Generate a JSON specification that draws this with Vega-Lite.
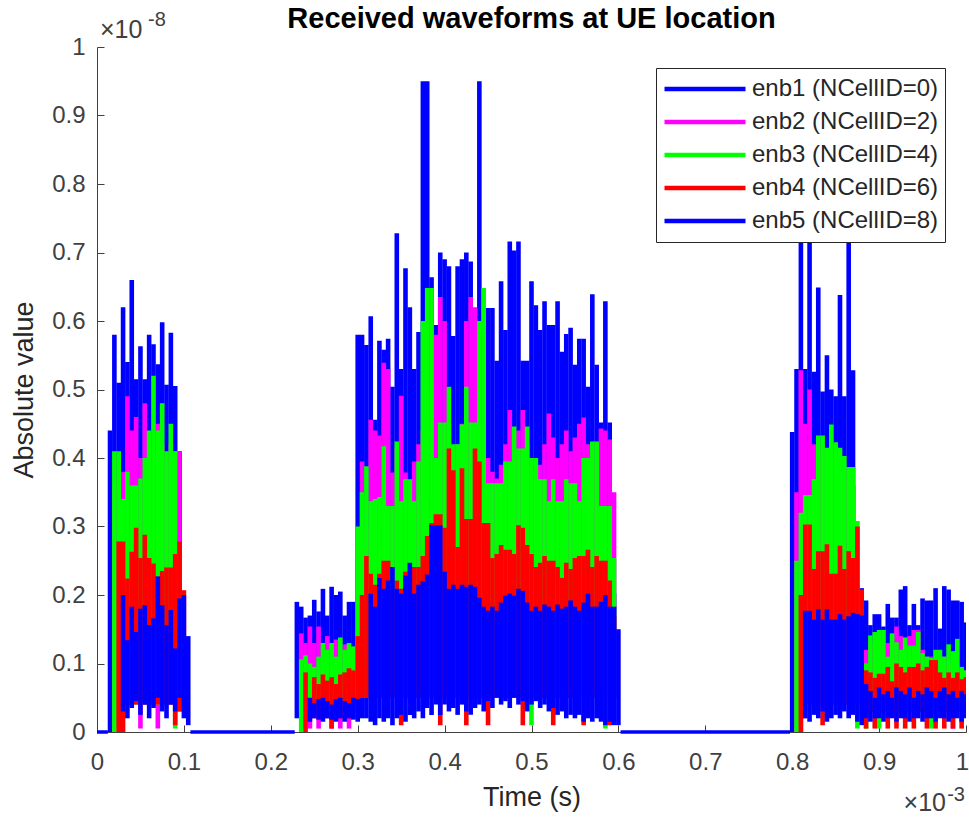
{
"$schema":"https://vega.github.io/schema/vega-lite/v6.json",
"width":869,"height":685,
"autosize":{"type":"none"},
"padding":{"left":97,"top":47,"right":3,"bottom":85},
"background":"white",
"config":{"view":{"stroke":null},"font":"Liberation Sans"},
"title":{"text":"Received waveforms at UE location","fontSize":29,"fontWeight":"bold","color":"#000000","font":"Liberation Sans","anchor":"middle","frame":"group","baseline":"alphabetic","offset":-47},
"layer":[
{"data":{"values":[{"a":0,"b":0.0125},{"a":0.1075,"b":0.2275},{"a":0.6025,"b":0.7975}]},
 "mark":{"type":"rule","color":"#0000ff","strokeWidth":3.5},
 "encoding":{"x":{"field":"a","type":"quantitative","scale":{"domain":[0,1],"nice":false,"zero":false}},"x2":{"field":"b"},"y":{"datum":0}}},
{"data":{"values":[
{"s":"enb1","t":0.015,"hi":0.44,"lo":0},{"s":"enb1","t":0.02,"hi":0.58,"lo":0.01},{"s":"enb1","t":0.025,"hi":0.51,"lo":0.02},{"s":"enb1","t":0.03,"hi":0.62,"lo":0.05},{"s":"enb1","t":0.035,"hi":0.54,"lo":0.05},{"s":"enb1","t":0.04,"hi":0.66,"lo":0.05},{"s":"enb1","t":0.045,"hi":0.515,"lo":0.05},{"s":"enb1","t":0.05,"hi":0.563,"lo":0.05},{"s":"enb1","t":0.055,"hi":0.515,"lo":0.05},{"s":"enb1","t":0.06,"hi":0.58,"lo":0.05},{"s":"enb1","t":0.065,"hi":0.566,"lo":0.05},{"s":"enb1","t":0.07,"hi":0.537,"lo":0.05},{"s":"enb1","t":0.075,"hi":0.598,"lo":0.05},{"s":"enb1","t":0.08,"hi":0.507,"lo":0.05},{"s":"enb1","t":0.085,"hi":0.583,"lo":0.05},{"s":"enb1","t":0.09,"hi":0.505,"lo":0.05},{"s":"enb1","t":0.095,"hi":0.41,"lo":0.05},
{"s":"enb1","t":0.23,"hi":0.19,"lo":0.02},{"s":"enb1","t":0.235,"hi":0.183,"lo":0.03},{"s":"enb1","t":0.24,"hi":0.167,"lo":0.03},{"s":"enb1","t":0.245,"hi":0.17,"lo":0.03},{"s":"enb1","t":0.25,"hi":0.193,"lo":0.03},{"s":"enb1","t":0.255,"hi":0.176,"lo":0.03},{"s":"enb1","t":0.26,"hi":0.209,"lo":0.03},{"s":"enb1","t":0.265,"hi":0.17,"lo":0.03},{"s":"enb1","t":0.27,"hi":0.212,"lo":0.03},{"s":"enb1","t":0.275,"hi":0.2,"lo":0.03},{"s":"enb1","t":0.28,"hi":0.205,"lo":0.03},{"s":"enb1","t":0.285,"hi":0.17,"lo":0.03},{"s":"enb1","t":0.29,"hi":0.19,"lo":0.03},{"s":"enb1","t":0.295,"hi":0.19,"lo":0.03},
{"s":"enb1","t":0.3,"hi":0.58,"lo":0.05},{"s":"enb1","t":0.305,"hi":0.58,"lo":0.05},{"s":"enb1","t":0.31,"hi":0.565,"lo":0.05},{"s":"enb1","t":0.315,"hi":0.607,"lo":0.05},{"s":"enb1","t":0.32,"hi":0.456,"lo":0.05},{"s":"enb1","t":0.325,"hi":0.571,"lo":0.05},{"s":"enb1","t":0.33,"hi":0.558,"lo":0.05},{"s":"enb1","t":0.335,"hi":0.574,"lo":0.05},{"s":"enb1","t":0.34,"hi":0.504,"lo":0.05},{"s":"enb1","t":0.345,"hi":0.728,"lo":0.05},{"s":"enb1","t":0.35,"hi":0.53,"lo":0.05},{"s":"enb1","t":0.355,"hi":0.677,"lo":0.05},{"s":"enb1","t":0.36,"hi":0.62,"lo":0.05},{"s":"enb1","t":0.365,"hi":0.53,"lo":0.05},{"s":"enb1","t":0.37,"hi":0.584,"lo":0.05},{"s":"enb1","t":0.375,"hi":0.95,"lo":0.05},{"s":"enb1","t":0.38,"hi":0.95,"lo":0.05},{"s":"enb1","t":0.385,"hi":0.664,"lo":0.05},{"s":"enb1","t":0.39,"hi":0.594,"lo":0.05},{"s":"enb1","t":0.395,"hi":0.7,"lo":0.05},{"s":"enb1","t":0.4,"hi":0.69,"lo":0.05},{"s":"enb1","t":0.405,"hi":0.68,"lo":0.05},{"s":"enb1","t":0.41,"hi":0.578,"lo":0.05},{"s":"enb1","t":0.415,"hi":0.68,"lo":0.05},{"s":"enb1","t":0.42,"hi":0.69,"lo":0.05},{"s":"enb1","t":0.425,"hi":0.7,"lo":0.05},{"s":"enb1","t":0.43,"hi":0.687,"lo":0.05},{"s":"enb1","t":0.435,"hi":0.536,"lo":0.05},{"s":"enb1","t":0.44,"hi":0.95,"lo":0.05},{"s":"enb1","t":0.445,"hi":0.581,"lo":0.05},{"s":"enb1","t":0.45,"hi":0.619,"lo":0.05},{"s":"enb1","t":0.455,"hi":0.619,"lo":0.05},{"s":"enb1","t":0.46,"hi":0.542,"lo":0.05},{"s":"enb1","t":0.465,"hi":0.658,"lo":0.05},{"s":"enb1","t":0.47,"hi":0.587,"lo":0.05},{"s":"enb1","t":0.475,"hi":0.716,"lo":0.05},{"s":"enb1","t":0.48,"hi":0.703,"lo":0.05},{"s":"enb1","t":0.485,"hi":0.716,"lo":0.05},{"s":"enb1","t":0.49,"hi":0.542,"lo":0.05},{"s":"enb1","t":0.495,"hi":0.542,"lo":0.05},{"s":"enb1","t":0.5,"hi":0.658,"lo":0.05},{"s":"enb1","t":0.505,"hi":0.623,"lo":0.05},{"s":"enb1","t":0.51,"hi":0.587,"lo":0.05},{"s":"enb1","t":0.515,"hi":0.629,"lo":0.05},{"s":"enb1","t":0.52,"hi":0.594,"lo":0.05},{"s":"enb1","t":0.525,"hi":0.594,"lo":0.05},{"s":"enb1","t":0.53,"hi":0.629,"lo":0.05},{"s":"enb1","t":0.535,"hi":0.555,"lo":0.05},{"s":"enb1","t":0.54,"hi":0.581,"lo":0.05},{"s":"enb1","t":0.545,"hi":0.59,"lo":0.05},{"s":"enb1","t":0.55,"hi":0.536,"lo":0.05},{"s":"enb1","t":0.555,"hi":0.574,"lo":0.05},{"s":"enb1","t":0.56,"hi":0.574,"lo":0.05},{"s":"enb1","t":0.565,"hi":0.504,"lo":0.05},{"s":"enb1","t":0.57,"hi":0.639,"lo":0.05},{"s":"enb1","t":0.575,"hi":0.536,"lo":0.05},{"s":"enb1","t":0.58,"hi":0.452,"lo":0.05},{"s":"enb1","t":0.585,"hi":0.629,"lo":0.05},{"s":"enb1","t":0.59,"hi":0.452,"lo":0.05},{"s":"enb1","t":0.595,"hi":0.202,"lo":0.05},
{"s":"enb1","t":0.8,"hi":0.438,"lo":0},{"s":"enb1","t":0.805,"hi":0.53,"lo":0.01},{"s":"enb1","t":0.81,"hi":0.8,"lo":0.04},{"s":"enb1","t":0.815,"hi":0.53,"lo":0.05},{"s":"enb1","t":0.82,"hi":0.8,"lo":0.05},{"s":"enb1","t":0.825,"hi":0.526,"lo":0.05},{"s":"enb1","t":0.83,"hi":0.649,"lo":0.05},{"s":"enb1","t":0.835,"hi":0.497,"lo":0.05},{"s":"enb1","t":0.84,"hi":0.55,"lo":0.05},{"s":"enb1","t":0.845,"hi":0.5,"lo":0.05},{"s":"enb1","t":0.85,"hi":0.49,"lo":0.05},{"s":"enb1","t":0.855,"hi":0.638,"lo":0.05},{"s":"enb1","t":0.86,"hi":0.49,"lo":0.05},{"s":"enb1","t":0.865,"hi":0.8,"lo":0.05},{"s":"enb1","t":0.87,"hi":0.528,"lo":0.05},{"s":"enb1","t":0.875,"hi":0.213,"lo":0.05},{"s":"enb1","t":0.88,"hi":0.21,"lo":0.04},
{"s":"enb1","t":0.885,"hi":0.192,"lo":0.03},{"s":"enb1","t":0.89,"hi":0.156,"lo":0.03},{"s":"enb1","t":0.895,"hi":0.172,"lo":0.03},{"s":"enb1","t":0.9,"hi":0.172,"lo":0.03},{"s":"enb1","t":0.905,"hi":0.154,"lo":0.03},{"s":"enb1","t":0.91,"hi":0.187,"lo":0.03},{"s":"enb1","t":0.915,"hi":0.167,"lo":0.03},{"s":"enb1","t":0.92,"hi":0.167,"lo":0.03},{"s":"enb1","t":0.925,"hi":0.208,"lo":0.03},{"s":"enb1","t":0.93,"hi":0.213,"lo":0.03},{"s":"enb1","t":0.935,"hi":0.156,"lo":0.03},{"s":"enb1","t":0.94,"hi":0.187,"lo":0.03},{"s":"enb1","t":0.945,"hi":0.156,"lo":0.03},{"s":"enb1","t":0.95,"hi":0.195,"lo":0.03},{"s":"enb1","t":0.955,"hi":0.192,"lo":0.03},{"s":"enb1","t":0.96,"hi":0.192,"lo":0.03},{"s":"enb1","t":0.965,"hi":0.21,"lo":0.03},{"s":"enb1","t":0.97,"hi":0.151,"lo":0.03},{"s":"enb1","t":0.975,"hi":0.213,"lo":0.03},{"s":"enb1","t":0.98,"hi":0.208,"lo":0.03},{"s":"enb1","t":0.985,"hi":0.192,"lo":0.03},{"s":"enb1","t":0.99,"hi":0.192,"lo":0.03},{"s":"enb1","t":0.995,"hi":0.19,"lo":0.03},{"s":"enb1","t":1.0,"hi":0.16,"lo":0.03},
{"s":"enb2","t":0.02,"hi":0.36,"lo":0.005},{"s":"enb2","t":0.025,"hi":0.4,"lo":0.02},{"s":"enb2","t":0.03,"hi":0.38,"lo":0.04},{"s":"enb2","t":0.035,"hi":0.49,"lo":0.04},{"s":"enb2","t":0.04,"hi":0.44,"lo":0.04},{"s":"enb2","t":0.045,"hi":0.46,"lo":0.04},{"s":"enb2","t":0.05,"hi":0.4,"lo":0.005},{"s":"enb2","t":0.055,"hi":0.48,"lo":0.04},{"s":"enb2","t":0.06,"hi":0.42,"lo":0.04},{"s":"enb2","t":0.065,"hi":0.4,"lo":0.04},{"s":"enb2","t":0.07,"hi":0.45,"lo":0.005},{"s":"enb2","t":0.075,"hi":0.42,"lo":0.04},{"s":"enb2","t":0.08,"hi":0.4,"lo":0.04},{"s":"enb2","t":0.085,"hi":0.42,"lo":0.04},{"s":"enb2","t":0.09,"hi":0.41,"lo":0.04},{"s":"enb2","t":0.095,"hi":0.41,"lo":0.03},
{"s":"enb2","t":0.235,"hi":0.144,"lo":0.03},{"s":"enb2","t":0.24,"hi":0.13,"lo":0.03},{"s":"enb2","t":0.245,"hi":0.154,"lo":0.005},{"s":"enb2","t":0.25,"hi":0.13,"lo":0.03},{"s":"enb2","t":0.255,"hi":0.154,"lo":0.005},{"s":"enb2","t":0.26,"hi":0.12,"lo":0.03},{"s":"enb2","t":0.265,"hi":0.14,"lo":0.03},{"s":"enb2","t":0.27,"hi":0.12,"lo":0.005},{"s":"enb2","t":0.275,"hi":0.135,"lo":0.03},{"s":"enb2","t":0.28,"hi":0.12,"lo":0.005},{"s":"enb2","t":0.285,"hi":0.128,"lo":0.03},{"s":"enb2","t":0.29,"hi":0.12,"lo":0.005},{"s":"enb2","t":0.295,"hi":0.12,"lo":0.03},{"s":"enb2","t":0.3,"hi":0.25,"lo":0.04},
{"s":"enb2","t":0.305,"hi":0.395,"lo":0.05},{"s":"enb2","t":0.31,"hi":0.3,"lo":0.05},{"s":"enb2","t":0.315,"hi":0.456,"lo":0.05},{"s":"enb2","t":0.32,"hi":0.44,"lo":0.05},{"s":"enb2","t":0.325,"hi":0.433,"lo":0.05},{"s":"enb2","t":0.33,"hi":0.539,"lo":0.05},{"s":"enb2","t":0.335,"hi":0.53,"lo":0.05},{"s":"enb2","t":0.34,"hi":0.379,"lo":0.05},{"s":"enb2","t":0.345,"hi":0.414,"lo":0.05},{"s":"enb2","t":0.35,"hi":0.491,"lo":0.05},{"s":"enb2","t":0.355,"hi":0.379,"lo":0.05},{"s":"enb2","t":0.36,"hi":0.337,"lo":0.05},{"s":"enb2","t":0.365,"hi":0.395,"lo":0.05},{"s":"enb2","t":0.37,"hi":0.42,"lo":0.05},{"s":"enb2","t":0.375,"hi":0.44,"lo":0.05},{"s":"enb2","t":0.38,"hi":0.46,"lo":0.05},{"s":"enb2","t":0.385,"hi":0.5,"lo":0.05},{"s":"enb2","t":0.39,"hi":0.58,"lo":0.05},{"s":"enb2","t":0.395,"hi":0.635,"lo":0.05},{"s":"enb2","t":0.4,"hi":0.6,"lo":0.05},{"s":"enb2","t":0.405,"hi":0.45,"lo":0.05},{"s":"enb2","t":0.41,"hi":0.4,"lo":0.05},{"s":"enb2","t":0.415,"hi":0.42,"lo":0.05},{"s":"enb2","t":0.42,"hi":0.45,"lo":0.05},{"s":"enb2","t":0.425,"hi":0.6,"lo":0.05},{"s":"enb2","t":0.43,"hi":0.635,"lo":0.05},{"s":"enb2","t":0.435,"hi":0.62,"lo":0.05},{"s":"enb2","t":0.44,"hi":0.45,"lo":0.05},{"s":"enb2","t":0.445,"hi":0.4,"lo":0.05},{"s":"enb2","t":0.45,"hi":0.4,"lo":0.05},{"s":"enb2","t":0.455,"hi":0.38,"lo":0.05},{"s":"enb2","t":0.46,"hi":0.37,"lo":0.05},{"s":"enb2","t":0.465,"hi":0.39,"lo":0.05},{"s":"enb2","t":0.47,"hi":0.42,"lo":0.05},{"s":"enb2","t":0.475,"hi":0.47,"lo":0.05},{"s":"enb2","t":0.48,"hi":0.43,"lo":0.05},{"s":"enb2","t":0.485,"hi":0.44,"lo":0.05},{"s":"enb2","t":0.49,"hi":0.47,"lo":0.05},{"s":"enb2","t":0.495,"hi":0.42,"lo":0.05},{"s":"enb2","t":0.5,"hi":0.38,"lo":0.05},{"s":"enb2","t":0.505,"hi":0.37,"lo":0.05},{"s":"enb2","t":0.51,"hi":0.39,"lo":0.05},{"s":"enb2","t":0.515,"hi":0.42,"lo":0.05},{"s":"enb2","t":0.52,"hi":0.465,"lo":0.05},{"s":"enb2","t":0.525,"hi":0.43,"lo":0.05},{"s":"enb2","t":0.53,"hi":0.4,"lo":0.05},{"s":"enb2","t":0.535,"hi":0.42,"lo":0.05},{"s":"enb2","t":0.54,"hi":0.44,"lo":0.05},{"s":"enb2","t":0.545,"hi":0.41,"lo":0.05},{"s":"enb2","t":0.55,"hi":0.43,"lo":0.05},{"s":"enb2","t":0.555,"hi":0.45,"lo":0.05},{"s":"enb2","t":0.56,"hi":0.459,"lo":0.05},{"s":"enb2","t":0.565,"hi":0.42,"lo":0.05},{"s":"enb2","t":0.57,"hi":0.39,"lo":0.05},{"s":"enb2","t":0.575,"hi":0.42,"lo":0.05},{"s":"enb2","t":0.58,"hi":0.443,"lo":0.05},{"s":"enb2","t":0.585,"hi":0.44,"lo":0.05},{"s":"enb2","t":0.59,"hi":0.427,"lo":0.05},{"s":"enb2","t":0.595,"hi":0.35,"lo":0.05},
{"s":"enb2","t":0.805,"hi":0.35,"lo":0},{"s":"enb2","t":0.81,"hi":0.528,"lo":0.02},{"s":"enb2","t":0.815,"hi":0.45,"lo":0.04},{"s":"enb2","t":0.82,"hi":0.5,"lo":0.04},{"s":"enb2","t":0.825,"hi":0.42,"lo":0.04},{"s":"enb2","t":0.83,"hi":0.4,"lo":0.04},{"s":"enb2","t":0.835,"hi":0.42,"lo":0.04},{"s":"enb2","t":0.84,"hi":0.4,"lo":0.04},{"s":"enb2","t":0.845,"hi":0.42,"lo":0.04},{"s":"enb2","t":0.85,"hi":0.4,"lo":0.04},{"s":"enb2","t":0.855,"hi":0.38,"lo":0.04},{"s":"enb2","t":0.86,"hi":0.37,"lo":0.04},{"s":"enb2","t":0.865,"hi":0.387,"lo":0.04},{"s":"enb2","t":0.87,"hi":0.36,"lo":0.04},{"s":"enb2","t":0.875,"hi":0.3,"lo":0.04},
{"s":"enb2","t":0.885,"hi":0.12,"lo":0.03},{"s":"enb2","t":0.89,"hi":0.13,"lo":0.03},{"s":"enb2","t":0.895,"hi":0.12,"lo":0.03},{"s":"enb2","t":0.9,"hi":0.13,"lo":0.03},{"s":"enb2","t":0.905,"hi":0.12,"lo":0.03},{"s":"enb2","t":0.91,"hi":0.13,"lo":0.03},{"s":"enb2","t":0.915,"hi":0.14,"lo":0.03},{"s":"enb2","t":0.92,"hi":0.154,"lo":0.03},{"s":"enb2","t":0.925,"hi":0.14,"lo":0.03},{"s":"enb2","t":0.93,"hi":0.13,"lo":0.03},{"s":"enb2","t":0.935,"hi":0.14,"lo":0.03},{"s":"enb2","t":0.94,"hi":0.149,"lo":0.03},{"s":"enb2","t":0.945,"hi":0.149,"lo":0.03},{"s":"enb2","t":0.95,"hi":0.12,"lo":0.03},{"s":"enb2","t":0.955,"hi":0.11,"lo":0.03},{"s":"enb2","t":0.96,"hi":0.11,"lo":0.03},{"s":"enb2","t":0.965,"hi":0.11,"lo":0.03},{"s":"enb2","t":0.97,"hi":0.1,"lo":0.03},{"s":"enb2","t":0.975,"hi":0.11,"lo":0.03},{"s":"enb2","t":0.98,"hi":0.1,"lo":0.03},{"s":"enb2","t":0.985,"hi":0.11,"lo":0.005},{"s":"enb2","t":0.99,"hi":0.09,"lo":0.03},{"s":"enb2","t":0.995,"hi":0.09,"lo":0.03},{"s":"enb2","t":1.0,"hi":0.09,"lo":0.03},
{"s":"enb3","t":0.02,"hi":0.41,"lo":0},{"s":"enb3","t":0.025,"hi":0.41,"lo":0},{"s":"enb3","t":0.03,"hi":0.34,"lo":0.04},{"s":"enb3","t":0.035,"hi":0.38,"lo":0.04},{"s":"enb3","t":0.04,"hi":0.36,"lo":0.04},{"s":"enb3","t":0.045,"hi":0.36,"lo":0.04},{"s":"enb3","t":0.05,"hi":0.37,"lo":0.04},{"s":"enb3","t":0.055,"hi":0.4,"lo":0.04},{"s":"enb3","t":0.06,"hi":0.44,"lo":0.04},{"s":"enb3","t":0.065,"hi":0.52,"lo":0.04},{"s":"enb3","t":0.07,"hi":0.44,"lo":0.04},{"s":"enb3","t":0.075,"hi":0.48,"lo":0.04},{"s":"enb3","t":0.08,"hi":0.41,"lo":0.04},{"s":"enb3","t":0.085,"hi":0.45,"lo":0.04},{"s":"enb3","t":0.09,"hi":0.41,"lo":0.005},
{"s":"enb3","t":0.235,"hi":0.106,"lo":0},{"s":"enb3","t":0.24,"hi":0.112,"lo":0.005},{"s":"enb3","t":0.245,"hi":0.1,"lo":0.03},{"s":"enb3","t":0.25,"hi":0.095,"lo":0.03},{"s":"enb3","t":0.255,"hi":0.11,"lo":0.03},{"s":"enb3","t":0.26,"hi":0.13,"lo":0.03},{"s":"enb3","t":0.265,"hi":0.12,"lo":0.03},{"s":"enb3","t":0.27,"hi":0.13,"lo":0.03},{"s":"enb3","t":0.275,"hi":0.11,"lo":0.03},{"s":"enb3","t":0.28,"hi":0.138,"lo":0.03},{"s":"enb3","t":0.285,"hi":0.12,"lo":0.03},{"s":"enb3","t":0.29,"hi":0.13,"lo":0.03},{"s":"enb3","t":0.295,"hi":0.125,"lo":0.03},{"s":"enb3","t":0.3,"hi":0.3,"lo":0.04},
{"s":"enb3","t":0.305,"hi":0.35,"lo":0.05},{"s":"enb3","t":0.31,"hi":0.388,"lo":0.05},{"s":"enb3","t":0.315,"hi":0.337,"lo":0.05},{"s":"enb3","t":0.32,"hi":0.34,"lo":0.05},{"s":"enb3","t":0.325,"hi":0.343,"lo":0.05},{"s":"enb3","t":0.33,"hi":0.417,"lo":0.05},{"s":"enb3","t":0.335,"hi":0.33,"lo":0.05},{"s":"enb3","t":0.34,"hi":0.33,"lo":0.05},{"s":"enb3","t":0.345,"hi":0.424,"lo":0.05},{"s":"enb3","t":0.35,"hi":0.337,"lo":0.05},{"s":"enb3","t":0.355,"hi":0.369,"lo":0.05},{"s":"enb3","t":0.36,"hi":0.369,"lo":0.05},{"s":"enb3","t":0.365,"hi":0.337,"lo":0.05},{"s":"enb3","t":0.37,"hi":0.395,"lo":0.05},{"s":"enb3","t":0.375,"hi":0.6,"lo":0.05},{"s":"enb3","t":0.38,"hi":0.648,"lo":0.05},{"s":"enb3","t":0.385,"hi":0.648,"lo":0.05},{"s":"enb3","t":0.39,"hi":0.4,"lo":0.05},{"s":"enb3","t":0.395,"hi":0.452,"lo":0.05},{"s":"enb3","t":0.4,"hi":0.452,"lo":0.05},{"s":"enb3","t":0.405,"hi":0.504,"lo":0.05},{"s":"enb3","t":0.41,"hi":0.42,"lo":0.05},{"s":"enb3","t":0.415,"hi":0.42,"lo":0.05},{"s":"enb3","t":0.42,"hi":0.449,"lo":0.05},{"s":"enb3","t":0.425,"hi":0.504,"lo":0.05},{"s":"enb3","t":0.43,"hi":0.452,"lo":0.05},{"s":"enb3","t":0.435,"hi":0.452,"lo":0.05},{"s":"enb3","t":0.44,"hi":0.6,"lo":0.05},{"s":"enb3","t":0.445,"hi":0.648,"lo":0.05},{"s":"enb3","t":0.45,"hi":0.363,"lo":0.05},{"s":"enb3","t":0.455,"hi":0.363,"lo":0.05},{"s":"enb3","t":0.46,"hi":0.363,"lo":0.05},{"s":"enb3","t":0.465,"hi":0.363,"lo":0.05},{"s":"enb3","t":0.47,"hi":0.395,"lo":0.05},{"s":"enb3","t":0.475,"hi":0.395,"lo":0.05},{"s":"enb3","t":0.48,"hi":0.446,"lo":0.05},{"s":"enb3","t":0.485,"hi":0.414,"lo":0.05},{"s":"enb3","t":0.49,"hi":0.414,"lo":0.05},{"s":"enb3","t":0.495,"hi":0.446,"lo":0.05},{"s":"enb3","t":0.5,"hi":0.4,"lo":0.01},{"s":"enb3","t":0.505,"hi":0.4,"lo":0.05},{"s":"enb3","t":0.51,"hi":0.369,"lo":0.05},{"s":"enb3","t":0.515,"hi":0.369,"lo":0.05},{"s":"enb3","t":0.52,"hi":0.337,"lo":0.05},{"s":"enb3","t":0.525,"hi":0.369,"lo":0.05},{"s":"enb3","t":0.53,"hi":0.337,"lo":0.05},{"s":"enb3","t":0.535,"hi":0.337,"lo":0.05},{"s":"enb3","t":0.54,"hi":0.369,"lo":0.05},{"s":"enb3","t":0.545,"hi":0.363,"lo":0.05},{"s":"enb3","t":0.55,"hi":0.363,"lo":0.05},{"s":"enb3","t":0.555,"hi":0.337,"lo":0.05},{"s":"enb3","t":0.56,"hi":0.4,"lo":0.05},{"s":"enb3","t":0.565,"hi":0.4,"lo":0.05},{"s":"enb3","t":0.57,"hi":0.424,"lo":0.05},{"s":"enb3","t":0.575,"hi":0.424,"lo":0.05},{"s":"enb3","t":0.58,"hi":0.33,"lo":0.05},{"s":"enb3","t":0.585,"hi":0.33,"lo":0.005},{"s":"enb3","t":0.59,"hi":0.33,"lo":0.05},{"s":"enb3","t":0.595,"hi":0.254,"lo":0.05},
{"s":"enb3","t":0.805,"hi":0.25,"lo":0},{"s":"enb3","t":0.81,"hi":0.32,"lo":0},{"s":"enb3","t":0.815,"hi":0.346,"lo":0.04},{"s":"enb3","t":0.82,"hi":0.346,"lo":0.04},{"s":"enb3","t":0.825,"hi":0.369,"lo":0.04},{"s":"enb3","t":0.83,"hi":0.433,"lo":0.04},{"s":"enb3","t":0.835,"hi":0.433,"lo":0.04},{"s":"enb3","t":0.84,"hi":0.415,"lo":0.04},{"s":"enb3","t":0.845,"hi":0.449,"lo":0.04},{"s":"enb3","t":0.85,"hi":0.423,"lo":0.04},{"s":"enb3","t":0.855,"hi":0.415,"lo":0.04},{"s":"enb3","t":0.86,"hi":0.403,"lo":0.04},{"s":"enb3","t":0.865,"hi":0.387,"lo":0.04},{"s":"enb3","t":0.87,"hi":0.387,"lo":0.04},{"s":"enb3","t":0.875,"hi":0.308,"lo":0.005},
{"s":"enb3","t":0.885,"hi":0.1,"lo":0.005},{"s":"enb3","t":0.89,"hi":0.141,"lo":0.03},{"s":"enb3","t":0.895,"hi":0.146,"lo":0.03},{"s":"enb3","t":0.9,"hi":0.149,"lo":0.005},{"s":"enb3","t":0.905,"hi":0.149,"lo":0.03},{"s":"enb3","t":0.91,"hi":0.11,"lo":0.03},{"s":"enb3","t":0.915,"hi":0.144,"lo":0.03},{"s":"enb3","t":0.92,"hi":0.131,"lo":0.03},{"s":"enb3","t":0.925,"hi":0.12,"lo":0.03},{"s":"enb3","t":0.93,"hi":0.138,"lo":0.03},{"s":"enb3","t":0.935,"hi":0.126,"lo":0.03},{"s":"enb3","t":0.94,"hi":0.126,"lo":0.03},{"s":"enb3","t":0.945,"hi":0.146,"lo":0.03},{"s":"enb3","t":0.95,"hi":0.115,"lo":0.03},{"s":"enb3","t":0.955,"hi":0.11,"lo":0.03},{"s":"enb3","t":0.96,"hi":0.108,"lo":0.005},{"s":"enb3","t":0.965,"hi":0.12,"lo":0.03},{"s":"enb3","t":0.97,"hi":0.12,"lo":0.03},{"s":"enb3","t":0.975,"hi":0.11,"lo":0.03},{"s":"enb3","t":0.98,"hi":0.128,"lo":0.03},{"s":"enb3","t":0.985,"hi":0.118,"lo":0.03},{"s":"enb3","t":0.99,"hi":0.136,"lo":0.03},{"s":"enb3","t":0.995,"hi":0.095,"lo":0.03},{"s":"enb3","t":1.0,"hi":0.09,"lo":0.03},
{"s":"enb4","t":0.025,"hi":0.278,"lo":0},{"s":"enb4","t":0.03,"hi":0.278,"lo":0},{"s":"enb4","t":0.035,"hi":0.224,"lo":0.04},{"s":"enb4","t":0.04,"hi":0.263,"lo":0.04},{"s":"enb4","t":0.045,"hi":0.298,"lo":0.04},{"s":"enb4","t":0.05,"hi":0.254,"lo":0.04},{"s":"enb4","t":0.055,"hi":0.288,"lo":0.04},{"s":"enb4","t":0.06,"hi":0.254,"lo":0.04},{"s":"enb4","t":0.065,"hi":0.246,"lo":0.04},{"s":"enb4","t":0.07,"hi":0.227,"lo":0.04},{"s":"enb4","t":0.075,"hi":0.235,"lo":0.04},{"s":"enb4","t":0.08,"hi":0.24,"lo":0.04},{"s":"enb4","t":0.085,"hi":0.24,"lo":0.04},{"s":"enb4","t":0.09,"hi":0.26,"lo":0.01},{"s":"enb4","t":0.095,"hi":0.278,"lo":0.03},{"s":"enb4","t":0.1,"hi":0.207,"lo":0.03},
{"s":"enb4","t":0.24,"hi":0.087,"lo":0},{"s":"enb4","t":0.245,"hi":0.048,"lo":0.02},{"s":"enb4","t":0.25,"hi":0.08,"lo":0.02},{"s":"enb4","t":0.255,"hi":0.07,"lo":0.02},{"s":"enb4","t":0.26,"hi":0.084,"lo":0.02},{"s":"enb4","t":0.265,"hi":0.075,"lo":0.02},{"s":"enb4","t":0.27,"hi":0.08,"lo":0.005},{"s":"enb4","t":0.275,"hi":0.07,"lo":0.02},{"s":"enb4","t":0.28,"hi":0.084,"lo":0.02},{"s":"enb4","t":0.285,"hi":0.087,"lo":0.02},{"s":"enb4","t":0.29,"hi":0.093,"lo":0.02},{"s":"enb4","t":0.295,"hi":0.09,"lo":0.02},{"s":"enb4","t":0.3,"hi":0.14,"lo":0.03},
{"s":"enb4","t":0.305,"hi":0.2,"lo":0.05},{"s":"enb4","t":0.31,"hi":0.257,"lo":0.05},{"s":"enb4","t":0.315,"hi":0.231,"lo":0.05},{"s":"enb4","t":0.32,"hi":0.215,"lo":0.05},{"s":"enb4","t":0.325,"hi":0.231,"lo":0.05},{"s":"enb4","t":0.33,"hi":0.25,"lo":0.05},{"s":"enb4","t":0.335,"hi":0.25,"lo":0.05},{"s":"enb4","t":0.34,"hi":0.202,"lo":0.05},{"s":"enb4","t":0.345,"hi":0.221,"lo":0.05},{"s":"enb4","t":0.35,"hi":0.209,"lo":0.01},{"s":"enb4","t":0.355,"hi":0.234,"lo":0.05},{"s":"enb4","t":0.36,"hi":0.225,"lo":0.05},{"s":"enb4","t":0.365,"hi":0.241,"lo":0.05},{"s":"enb4","t":0.37,"hi":0.241,"lo":0.05},{"s":"enb4","t":0.375,"hi":0.257,"lo":0.05},{"s":"enb4","t":0.38,"hi":0.286,"lo":0.05},{"s":"enb4","t":0.385,"hi":0.305,"lo":0.05},{"s":"enb4","t":0.39,"hi":0.318,"lo":0.05},{"s":"enb4","t":0.395,"hi":0.318,"lo":0.01},{"s":"enb4","t":0.4,"hi":0.298,"lo":0.05},{"s":"enb4","t":0.405,"hi":0.414,"lo":0.05},{"s":"enb4","t":0.41,"hi":0.382,"lo":0.05},{"s":"enb4","t":0.415,"hi":0.27,"lo":0.05},{"s":"enb4","t":0.42,"hi":0.385,"lo":0.05},{"s":"enb4","t":0.425,"hi":0.311,"lo":0.01},{"s":"enb4","t":0.43,"hi":0.311,"lo":0.05},{"s":"enb4","t":0.435,"hi":0.414,"lo":0.05},{"s":"enb4","t":0.44,"hi":0.395,"lo":0.05},{"s":"enb4","t":0.445,"hi":0.305,"lo":0.05},{"s":"enb4","t":0.45,"hi":0.305,"lo":0.01},{"s":"enb4","t":0.455,"hi":0.254,"lo":0.05},{"s":"enb4","t":0.46,"hi":0.26,"lo":0.05},{"s":"enb4","t":0.465,"hi":0.273,"lo":0.05},{"s":"enb4","t":0.47,"hi":0.266,"lo":0.05},{"s":"enb4","t":0.475,"hi":0.266,"lo":0.05},{"s":"enb4","t":0.48,"hi":0.26,"lo":0.05},{"s":"enb4","t":0.485,"hi":0.302,"lo":0.05},{"s":"enb4","t":0.49,"hi":0.298,"lo":0.01},{"s":"enb4","t":0.495,"hi":0.273,"lo":0.05},{"s":"enb4","t":0.5,"hi":0.26,"lo":0.05},{"s":"enb4","t":0.505,"hi":0.241,"lo":0.05},{"s":"enb4","t":0.51,"hi":0.247,"lo":0.05},{"s":"enb4","t":0.515,"hi":0.257,"lo":0.05},{"s":"enb4","t":0.52,"hi":0.25,"lo":0.05},{"s":"enb4","t":0.525,"hi":0.25,"lo":0.01},{"s":"enb4","t":0.53,"hi":0.241,"lo":0.05},{"s":"enb4","t":0.535,"hi":0.225,"lo":0.05},{"s":"enb4","t":0.54,"hi":0.247,"lo":0.05},{"s":"enb4","t":0.545,"hi":0.238,"lo":0.05},{"s":"enb4","t":0.55,"hi":0.254,"lo":0.05},{"s":"enb4","t":0.555,"hi":0.257,"lo":0.05},{"s":"enb4","t":0.56,"hi":0.257,"lo":0.01},{"s":"enb4","t":0.565,"hi":0.266,"lo":0.05},{"s":"enb4","t":0.57,"hi":0.241,"lo":0.05},{"s":"enb4","t":0.575,"hi":0.257,"lo":0.05},{"s":"enb4","t":0.58,"hi":0.25,"lo":0.05},{"s":"enb4","t":0.585,"hi":0.25,"lo":0.05},{"s":"enb4","t":0.59,"hi":0.221,"lo":0.01},{"s":"enb4","t":0.595,"hi":0.17,"lo":0.05},
{"s":"enb4","t":0.81,"hi":0.2,"lo":0},{"s":"enb4","t":0.815,"hi":0.303,"lo":0.02},{"s":"enb4","t":0.82,"hi":0.303,"lo":0.04},{"s":"enb4","t":0.825,"hi":0.238,"lo":0.04},{"s":"enb4","t":0.83,"hi":0.264,"lo":0.04},{"s":"enb4","t":0.835,"hi":0.264,"lo":0.01},{"s":"enb4","t":0.84,"hi":0.274,"lo":0.04},{"s":"enb4","t":0.845,"hi":0.231,"lo":0.04},{"s":"enb4","t":0.85,"hi":0.231,"lo":0.04},{"s":"enb4","t":0.855,"hi":0.272,"lo":0.04},{"s":"enb4","t":0.86,"hi":0.238,"lo":0.04},{"s":"enb4","t":0.865,"hi":0.264,"lo":0.04},{"s":"enb4","t":0.87,"hi":0.254,"lo":0.04},{"s":"enb4","t":0.875,"hi":0.3,"lo":0.04},{"s":"enb4","t":0.88,"hi":0.208,"lo":0.02},
{"s":"enb4","t":0.885,"hi":0.09,"lo":0.005},{"s":"enb4","t":0.89,"hi":0.087,"lo":0.03},{"s":"enb4","t":0.895,"hi":0.079,"lo":0.005},{"s":"enb4","t":0.9,"hi":0.085,"lo":0.03},{"s":"enb4","t":0.905,"hi":0.085,"lo":0.03},{"s":"enb4","t":0.91,"hi":0.095,"lo":0.005},{"s":"enb4","t":0.915,"hi":0.074,"lo":0.03},{"s":"enb4","t":0.92,"hi":0.1,"lo":0.005},{"s":"enb4","t":0.925,"hi":0.095,"lo":0.03},{"s":"enb4","t":0.93,"hi":0.087,"lo":0.005},{"s":"enb4","t":0.935,"hi":0.095,"lo":0.03},{"s":"enb4","t":0.94,"hi":0.095,"lo":0.005},{"s":"enb4","t":0.945,"hi":0.1,"lo":0.03},{"s":"enb4","t":0.95,"hi":0.09,"lo":0.03},{"s":"enb4","t":0.955,"hi":0.095,"lo":0.005},{"s":"enb4","t":0.96,"hi":0.105,"lo":0.03},{"s":"enb4","t":0.965,"hi":0.105,"lo":0.005},{"s":"enb4","t":0.97,"hi":0.087,"lo":0.03},{"s":"enb4","t":0.975,"hi":0.079,"lo":0.005},{"s":"enb4","t":0.98,"hi":0.087,"lo":0.03},{"s":"enb4","t":0.985,"hi":0.079,"lo":0.005},{"s":"enb4","t":0.99,"hi":0.087,"lo":0.03},{"s":"enb4","t":0.995,"hi":0.077,"lo":0.005},{"s":"enb4","t":1.0,"hi":0.08,"lo":0.03},
{"s":"enb5","t":0.03,"hi":0.2,"lo":0.03},{"s":"enb5","t":0.035,"hi":0.134,"lo":0.02},{"s":"enb5","t":0.04,"hi":0.183,"lo":0.035},{"s":"enb5","t":0.045,"hi":0.146,"lo":0.045},{"s":"enb5","t":0.05,"hi":0.18,"lo":0.025},{"s":"enb5","t":0.055,"hi":0.185,"lo":0.04},{"s":"enb5","t":0.06,"hi":0.156,"lo":0.02},{"s":"enb5","t":0.065,"hi":0.166,"lo":0.035},{"s":"enb5","t":0.07,"hi":0.227,"lo":0.05},{"s":"enb5","t":0.075,"hi":0.185,"lo":0.03},{"s":"enb5","t":0.08,"hi":0.156,"lo":0.02},{"s":"enb5","t":0.085,"hi":0.178,"lo":0.04},{"s":"enb5","t":0.09,"hi":0.122,"lo":0.03},{"s":"enb5","t":0.095,"hi":0.195,"lo":0.05},{"s":"enb5","t":0.1,"hi":0.2,"lo":0.02},{"s":"enb5","t":0.105,"hi":0.14,"lo":0.01},
{"s":"enb5","t":0.245,"hi":0.05,"lo":0.015},{"s":"enb5","t":0.25,"hi":0.042,"lo":0.02},{"s":"enb5","t":0.255,"hi":0.048,"lo":0.018},{"s":"enb5","t":0.26,"hi":0.05,"lo":0.015},{"s":"enb5","t":0.265,"hi":0.045,"lo":0.02},{"s":"enb5","t":0.27,"hi":0.04,"lo":0.018},{"s":"enb5","t":0.275,"hi":0.048,"lo":0.015},{"s":"enb5","t":0.28,"hi":0.05,"lo":0.02},{"s":"enb5","t":0.285,"hi":0.045,"lo":0.015},{"s":"enb5","t":0.29,"hi":0.042,"lo":0.02},{"s":"enb5","t":0.295,"hi":0.05,"lo":0.018},{"s":"enb5","t":0.3,"hi":0.048,"lo":0.015},{"s":"enb5","t":0.305,"hi":0.05,"lo":0.02},{"s":"enb5","t":0.31,"hi":0.05,"lo":0.02},
{"s":"enb5","t":0.315,"hi":0.202,"lo":0.015},{"s":"enb5","t":0.32,"hi":0.183,"lo":0.01},{"s":"enb5","t":0.325,"hi":0.225,"lo":0.02},{"s":"enb5","t":0.33,"hi":0.209,"lo":0.015},{"s":"enb5","t":0.335,"hi":0.221,"lo":0.02},{"s":"enb5","t":0.34,"hi":0.241,"lo":0.01},{"s":"enb5","t":0.345,"hi":0.209,"lo":0.02},{"s":"enb5","t":0.35,"hi":0.202,"lo":0.025},{"s":"enb5","t":0.355,"hi":0.228,"lo":0.015},{"s":"enb5","t":0.36,"hi":0.247,"lo":0.025},{"s":"enb5","t":0.365,"hi":0.202,"lo":0.02},{"s":"enb5","t":0.37,"hi":0.215,"lo":0.03},{"s":"enb5","t":0.375,"hi":0.22,"lo":0.02},{"s":"enb5","t":0.38,"hi":0.23,"lo":0.035},{"s":"enb5","t":0.385,"hi":0.302,"lo":0.025},{"s":"enb5","t":0.39,"hi":0.302,"lo":0.04},{"s":"enb5","t":0.395,"hi":0.302,"lo":0.025},{"s":"enb5","t":0.4,"hi":0.234,"lo":0.04},{"s":"enb5","t":0.405,"hi":0.209,"lo":0.03},{"s":"enb5","t":0.41,"hi":0.215,"lo":0.035},{"s":"enb5","t":0.415,"hi":0.209,"lo":0.025},{"s":"enb5","t":0.42,"hi":0.215,"lo":0.04},{"s":"enb5","t":0.425,"hi":0.212,"lo":0.03},{"s":"enb5","t":0.43,"hi":0.215,"lo":0.025},{"s":"enb5","t":0.435,"hi":0.212,"lo":0.035},{"s":"enb5","t":0.44,"hi":0.196,"lo":0.04},{"s":"enb5","t":0.445,"hi":0.183,"lo":0.03},{"s":"enb5","t":0.45,"hi":0.177,"lo":0.045},{"s":"enb5","t":0.455,"hi":0.183,"lo":0.035},{"s":"enb5","t":0.46,"hi":0.177,"lo":0.05},{"s":"enb5","t":0.465,"hi":0.189,"lo":0.04},{"s":"enb5","t":0.47,"hi":0.199,"lo":0.045},{"s":"enb5","t":0.475,"hi":0.202,"lo":0.035},{"s":"enb5","t":0.48,"hi":0.199,"lo":0.05},{"s":"enb5","t":0.485,"hi":0.209,"lo":0.04},{"s":"enb5","t":0.49,"hi":0.206,"lo":0.045},{"s":"enb5","t":0.495,"hi":0.189,"lo":0.03},{"s":"enb5","t":0.5,"hi":0.177,"lo":0.04},{"s":"enb5","t":0.505,"hi":0.183,"lo":0.045},{"s":"enb5","t":0.51,"hi":0.177,"lo":0.035},{"s":"enb5","t":0.515,"hi":0.186,"lo":0.04},{"s":"enb5","t":0.52,"hi":0.183,"lo":0.03},{"s":"enb5","t":0.525,"hi":0.177,"lo":0.035},{"s":"enb5","t":0.53,"hi":0.186,"lo":0.025},{"s":"enb5","t":0.535,"hi":0.18,"lo":0.03},{"s":"enb5","t":0.54,"hi":0.183,"lo":0.02},{"s":"enb5","t":0.545,"hi":0.192,"lo":0.025},{"s":"enb5","t":0.55,"hi":0.183,"lo":0.02},{"s":"enb5","t":0.555,"hi":0.177,"lo":0.025},{"s":"enb5","t":0.56,"hi":0.189,"lo":0.015},{"s":"enb5","t":0.565,"hi":0.202,"lo":0.02},{"s":"enb5","t":0.57,"hi":0.183,"lo":0.015},{"s":"enb5","t":0.575,"hi":0.183,"lo":0.02},{"s":"enb5","t":0.58,"hi":0.19,"lo":0.015},{"s":"enb5","t":0.585,"hi":0.2,"lo":0.01},{"s":"enb5","t":0.59,"hi":0.183,"lo":0.015},{"s":"enb5","t":0.595,"hi":0.183,"lo":0.01},{"s":"enb5","t":0.6,"hi":0.15,"lo":0.01},
{"s":"enb5","t":0.815,"hi":0.177,"lo":0.02},{"s":"enb5","t":0.82,"hi":0.177,"lo":0.015},{"s":"enb5","t":0.825,"hi":0.164,"lo":0.025},{"s":"enb5","t":0.83,"hi":0.179,"lo":0.02},{"s":"enb5","t":0.835,"hi":0.164,"lo":0.03},{"s":"enb5","t":0.84,"hi":0.179,"lo":0.015},{"s":"enb5","t":0.845,"hi":0.164,"lo":0.02},{"s":"enb5","t":0.85,"hi":0.164,"lo":0.025},{"s":"enb5","t":0.855,"hi":0.172,"lo":0.02},{"s":"enb5","t":0.86,"hi":0.164,"lo":0.03},{"s":"enb5","t":0.865,"hi":0.169,"lo":0.02},{"s":"enb5","t":0.87,"hi":0.174,"lo":0.025},{"s":"enb5","t":0.875,"hi":0.172,"lo":0.015},{"s":"enb5","t":0.88,"hi":0.17,"lo":0.01},
{"s":"enb5","t":0.885,"hi":0.07,"lo":0.02},{"s":"enb5","t":0.89,"hi":0.06,"lo":0.015},{"s":"enb5","t":0.895,"hi":0.05,"lo":0.02},{"s":"enb5","t":0.9,"hi":0.065,"lo":0.02},{"s":"enb5","t":0.905,"hi":0.055,"lo":0.015},{"s":"enb5","t":0.91,"hi":0.06,"lo":0.02},{"s":"enb5","t":0.915,"hi":0.05,"lo":0.02},{"s":"enb5","t":0.92,"hi":0.065,"lo":0.015},{"s":"enb5","t":0.925,"hi":0.06,"lo":0.02},{"s":"enb5","t":0.93,"hi":0.055,"lo":0.02},{"s":"enb5","t":0.935,"hi":0.065,"lo":0.015},{"s":"enb5","t":0.94,"hi":0.05,"lo":0.02},{"s":"enb5","t":0.945,"hi":0.06,"lo":0.02},{"s":"enb5","t":0.95,"hi":0.055,"lo":0.015},{"s":"enb5","t":0.955,"hi":0.065,"lo":0.02},{"s":"enb5","t":0.96,"hi":0.06,"lo":0.02},{"s":"enb5","t":0.965,"hi":0.05,"lo":0.015},{"s":"enb5","t":0.97,"hi":0.06,"lo":0.02},{"s":"enb5","t":0.975,"hi":0.065,"lo":0.02},{"s":"enb5","t":0.98,"hi":0.055,"lo":0.015},{"s":"enb5","t":0.985,"hi":0.06,"lo":0.02},{"s":"enb5","t":0.99,"hi":0.05,"lo":0.02},{"s":"enb5","t":0.995,"hi":0.06,"lo":0.015},{"s":"enb5","t":1.0,"hi":0.055,"lo":0.02}
]},
 "mark":{"type":"rule","strokeWidth":4.6,"strokeCap":"butt","clip":true},
 "encoding":{
  "x":{"field":"t","type":"quantitative","scale":{"domain":[0,1],"nice":false,"zero":false},
   "axis":{"values":[0,0.1,0.2,0.3,0.4,0.5,0.6,0.7,0.8,0.9,1],"format":"~g","title":"Time (s)","grid":false,"tickSize":-7,"labelPadding":25,"labelBaseline":"top","labelFlush":false,"labelOverlap":false,"labelOffset":{"condition":{"test":"datum.value == 1","value":-4},"value":0},"labelFontSize":24,"labelColor":"#404040","labelFont":"Liberation Sans","titleFontSize":27,"titleFontWeight":"normal","titleColor":"#262626","titleFont":"Liberation Sans","titlePadding":10,"domainColor":"#404040","tickColor":"#404040"}},
  "y":{"field":"hi","type":"quantitative","scale":{"domain":[0,1],"nice":false,"zero":false},
   "axis":{"values":[0,0.1,0.2,0.3,0.4,0.5,0.6,0.7,0.8,0.9,1],"format":"~g","title":"Absolute value","grid":false,"tickSize":-7,"labelPadding":19,"labelFlush":false,"labelOverlap":false,"labelFontSize":24,"labelColor":"#404040","labelFont":"Liberation Sans","titleFontSize":27,"titleFontWeight":"normal","titleColor":"#262626","titleFont":"Liberation Sans","titlePadding":13,"domainColor":"#404040","tickColor":"#404040"}},
  "y2":{"field":"lo"},
  "color":{"field":"s","type":"nominal","scale":{"domain":["enb1","enb2","enb3","enb4","enb5"],"range":["#0000ff","#ff00ff","#00ff00","#ff0000","#0000ff"]},
   "legend":{"title":null,"orient":"top-right","offset":21,"symbolType":"stroke","symbolSize":6561,"symbolStrokeWidth":4.5,"labelFontSize":24,"labelFont":"Liberation Sans","labelColor":"#262626","labelOffset":4,"labelLimit":400,"clipHeight":30,"rowPadding":3,"padding":6,"strokeColor":"#262626","fillColor":"#ffffff","cornerRadius":0,
    "labelExpr":"datum.label=='enb1'?'enb1 (NCellID=0)':datum.label=='enb2'?'enb2 (NCellID=2)':datum.label=='enb3'?'enb3 (NCellID=4)':datum.label=='enb4'?'enb4 (NCellID=6)':'enb5 (NCellID=8)'"}}
 }},
{"data":{"values":[{"t":0,"v":1,"txt":"×10"}]},
 "mark":{"type":"text","align":"left","baseline":"alphabetic","dx":3,"dy":-9,"fontSize":25,"font":"Liberation Sans","color":"#404040"},
 "encoding":{"x":{"field":"t","type":"quantitative"},"y":{"field":"v","type":"quantitative"},"text":{"field":"txt"}}},
{"data":{"values":[{"t":0,"v":1,"txt":"-8"}]},
 "mark":{"type":"text","align":"left","baseline":"alphabetic","dx":51,"dy":-21,"fontSize":20,"font":"Liberation Sans","color":"#404040"},
 "encoding":{"x":{"field":"t","type":"quantitative"},"y":{"field":"v","type":"quantitative"},"text":{"field":"txt"}}},
{"data":{"values":[{"t":1,"v":0,"txt":"×10"}]},
 "mark":{"type":"text","align":"right","baseline":"alphabetic","dx":-20,"dy":79,"fontSize":25,"font":"Liberation Sans","color":"#404040"},
 "encoding":{"x":{"field":"t","type":"quantitative"},"y":{"field":"v","type":"quantitative"},"text":{"field":"txt"}}},
{"data":{"values":[{"t":1,"v":0,"txt":"-3"}]},
 "mark":{"type":"text","align":"right","baseline":"alphabetic","dx":-1,"dy":69,"fontSize":20,"font":"Liberation Sans","color":"#404040"},
 "encoding":{"x":{"field":"t","type":"quantitative"},"y":{"field":"v","type":"quantitative"},"text":{"field":"txt"}}}
]
}
